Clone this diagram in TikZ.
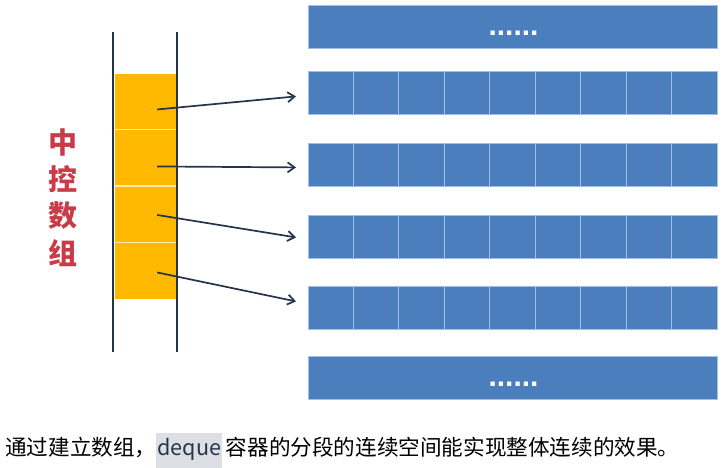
\documentclass[tikz,border=0pt]{standalone}
\usepackage{fontspec}
\setmainfont{Liberation Sans}
\newfontfamily\cjk{Noto Sans CJK SC}
\newfontfamily\dotfont{Liberation Sans}
\usetikzlibrary{arrows.meta,calc}
\definecolor{barblue}{RGB}{74,126,189}
\definecolor{sepblue}{RGB}{160,192,230}
\definecolor{cellyellow}{RGB}{255,185,0}
\definecolor{navy}{RGB}{38,52,74}
\definecolor{ctrlred}{RGB}{200,60,72}
\definecolor{hlgrey}{RGB}{220,223,228}
\begin{document}
\begin{tikzpicture}[x=1pt,y=-1pt,
  bar/.style={draw=sepblue,line width=0.8pt,fill=barblue,minimum width=409pt,minimum height=43pt,inner sep=0pt,anchor=north west},
  ycell/.style={fill=cellyellow,draw=none,minimum width=62pt,minimum height=55.5pt,inner sep=0pt,anchor=north west},
  sep/.style={draw=white!70!cellyellow,line width=1.2pt},
  rail/.style={draw=navy,line width=1.6pt},
  ptr/.style={draw=navy,line width=1.7pt,-{Straight Barb[length=7pt,width=10pt,line width=1.7pt]}},
  dots/.style={text=white,font=\dotfont\bfseries\fontsize{30}{30}\selectfont,anchor=base,inner sep=0pt},
  ctrl/.style={text=ctrlred,font=\cjk\bfseries\fontsize{29}{29}\selectfont,inner sep=0pt}
]
\useasboundingbox (0,0) rectangle (728,467);
% rails
\coordinate (lt) at (113,32);
\coordinate (lb) at (113,352);
\coordinate (rt) at (177,32);
\coordinate (rb) at (177,352);
% yellow cells
\node[ycell] (c1) at (115,73.5) {};
\node[ycell] (c2) at (115,130) {};
\node[ycell] (c3) at (115,186.5) {};
\node[ycell] (c4) at (115,243) {};
\draw[sep] (c1.south west) -- (c1.south east);
\draw[sep] (c2.south west) -- (c2.south east);
\draw[sep] (c3.south west) -- (c3.south east);
\draw[rail] (lt) -- (lb);
\draw[rail] (rt) -- (rb);
% label
\node[ctrl] (l1) at (63,142) {中};
\node[ctrl] (l2) at (63,179) {控};
\node[ctrl] (l3) at (63,216) {数};
\node[ctrl] (l4) at (63,253) {组};
% bars
\node[bar] (top) at (308,4.5) {};
\node[bar] (r1) at (308,71) {};
\node[bar] (r2) at (308,143) {};
\node[bar] (r3) at (308,214.5) {};
\node[bar] (r4) at (308,286) {};
\node[bar] (bot) at (308,356) {};
\foreach \r in {r1,r2,r3,r4}{
  \foreach \i in {1,...,8}{
    \draw[sepblue,line width=1pt] ($(\r.north west)+(45.44*\i,0)$) -- ($(\r.south west)+(45.44*\i,0)$);
  }
}
\node[dots] (d1) at (513.5,35.5) {......};
\node[dots] (d2) at (513.5,386.5) {......};
% pointers
\draw[ptr] ([xshift=11pt,yshift=-8pt]c1.center) -- ([xshift=-12pt,yshift=-3.5pt]r1.west);
\draw[ptr] ([xshift=11pt,yshift=-8.5pt]c2.center) -- ([xshift=-12pt,yshift=-2.5pt]r2.west);
\draw[ptr] ([xshift=11pt,yshift=-0.5pt]c3.center) -- ([xshift=-12pt,yshift=-1pt]r3.west);
\draw[ptr] ([xshift=11pt,yshift=-1.5pt]c4.center) -- ([xshift=-12pt,yshift=6.5pt]r4.west);
% caption
\node[anchor=base west,inner sep=0pt,font=\cjk\fontsize{21.6}{21.6}\selectfont] (cap) at (5,455)
  {通过建立数组，\tikz[baseline=(h.base)]\node[fill=hlgrey,text=navy,inner sep=1pt,outer sep=0pt,minimum height=36pt,text depth=10pt] (h) {deque};\,容器的分段的连续空间能实现整体连续的效果。};
\end{tikzpicture}
\end{document}
